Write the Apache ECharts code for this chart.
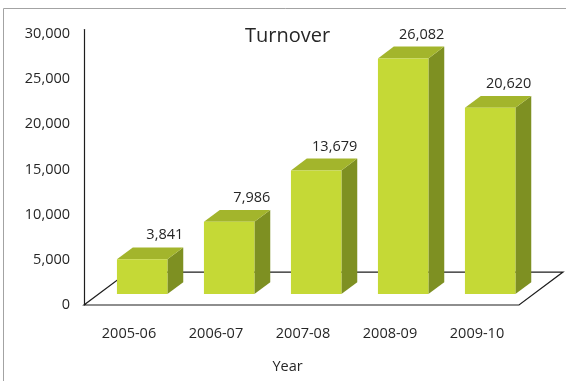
<!DOCTYPE html>
<html>
<head>
<meta charset="utf-8">
<script src="https://cdn.jsdelivr.net/npm/echarts@6/dist/echarts.min.js"></script>
<style>
  html, body { margin: 0; padding: 0; background: #ffffff; }
  #chart { width: 566px; height: 381px; }
</style>
</head>
<body>
<div id="chart"></div>
<script>
// ---- data ----
const categories = ['2005-06', '2006-07', '2007-08', '2008-09', '2009-10'];
const turnover = [3841, 7986, 13679, 26082, 20620];
const yMin = 0;
const yMax = 30500;
const yInterval = 5000;
const chartTitle = 'Turnover';
const xAxisName = 'Year';

// ---- style ----
const FONT = '"Open Sans", "Noto Sans", sans-serif';
const TEXT = '#262626';
const FRONT = '#c5d936';
const TOP = '#a3b52c';
const SIDE = '#7e9022';
const LINE = '#1e1e1e';

function fmt(v) {
  return String(v).replace(/\B(?=(\d{3})+(?!\d))/g, ',');
}

function depthVec(band) {
  return [band * 0.506, -band * 0.379];
}

function renderFloor(params, api) {
  const n = categories.length;
  const band = api.size([1, 0])[0];
  const a = api.coord([0, 0]);
  const b = api.coord([n - 1, 0]);
  const d = depthVec(band);
  const FL = [a[0] - band / 2, a[1]];
  const FR = [b[0] + band / 2, b[1]];
  const BR = [FR[0] + d[0], FR[1] + d[1]];
  const BL = [FL[0] + d[0], FL[1] + d[1]];
  return {
    type: 'polygon',
    shape: { points: [FL, FR, BR, BL] },
    style: { fill: '#ffffff', stroke: LINE, lineWidth: 1.2 }
  };
}

function renderBar(params, api) {
  const i = api.value(0);
  const v = api.value(1);
  const base = api.coord([i, 0]);
  const top = api.coord([i, v]);
  const band = api.size([1, 0])[0];
  const d = depthVec(band);
  const off = [d[0] / 3, d[1] / 3];
  const bd = [d[0] * 0.36, d[1] * 0.36];
  const barW = band * 0.58;
  const x0 = base[0] - barW / 2 + off[0];
  const x1 = x0 + barW;
  const yb = base[1] + off[1];
  const yt = top[1] + off[1];
  return {
    type: 'group',
    children: [
      {
        type: 'polygon',
        shape: { points: [[x1, yt], [x1 + bd[0], yt + bd[1]], [x1 + bd[0], yb + bd[1]], [x1, yb]] },
        style: { fill: SIDE }
      },
      {
        type: 'polygon',
        shape: { points: [[x0, yt], [x1, yt], [x1 + bd[0], yt + bd[1]], [x0 + bd[0], yt + bd[1]]] },
        style: { fill: TOP }
      },
      {
        type: 'rect',
        shape: { x: x0, y: yt, width: barW, height: yb - yt },
        style: { fill: FRONT }
      },
      {
        type: 'text',
        style: {
          text: fmt(v),
          x: x1 + bd[0],
          y: yt - 24,
          align: 'right',
          verticalAlign: 'middle',
          fill: TEXT,
          font: '14.5px ' + FONT
        }
      }
    ]
  };
}

const chart = echarts.init(document.getElementById('chart'), null, { renderer: 'canvas' });
chart.setOption({
  animation: false,
  backgroundColor: '#ffffff',
  title: {
    text: chartTitle,
    left: 240,
    top: 21,
    textStyle: { fontFamily: FONT, fontSize: 20, fontWeight: 'normal', color: TEXT }
  },
  graphic: [{
    type: 'rect',
    silent: true,
    z: -10,
    shape: { x: 3.5, y: 8.5, width: 700, height: 500 },
    style: { fill: 'none', stroke: '#a3a3a3', lineWidth: 1 }
  }],
  grid: { left: 84, right: 47, top: 29.5, bottom: 76, containLabel: false },
  xAxis: {
    type: 'category',
    data: categories,
    name: xAxisName,
    nameLocation: 'middle',
    nameGap: 54,
    nameTextStyle: { fontFamily: FONT, fontSize: 14.5, color: TEXT, padding: [0, 28, 0, 0] },
    axisLine: { show: false },
    axisTick: { show: false },
    axisLabel: { margin: 21, fontFamily: FONT, fontSize: 14.5, color: TEXT, padding: [0, 0, 0, 3] },
    splitLine: { show: false }
  },
  yAxis: {
    type: 'value',
    min: yMin,
    max: yMax,
    interval: yInterval,
    axisLine: { show: true, lineStyle: { color: LINE, width: 1.2 } },
    axisTick: { show: false },
    splitLine: { show: false },
    axisLabel: {
      margin: 14,
      showMaxLabel: false,
      fontFamily: FONT,
      fontSize: 14.5,
      color: TEXT,
      formatter: function (v) { return v % yInterval === 0 ? fmt(v) : ''; }
    }
  },
  series: [
    {
      type: 'custom',
      name: 'floor',
      z: 1,
      silent: true,
      renderItem: renderFloor,
      data: [[0, 0]],
      encode: { x: 0, y: 1 }
    },
    {
      type: 'custom',
      name: 'Turnover',
      z: 3,
      renderItem: renderBar,
      data: turnover.map(function (v, i) { return [i, v]; }),
      encode: { x: 0, y: 1 }
    }
  ]
});
</script>
</body>
</html>
